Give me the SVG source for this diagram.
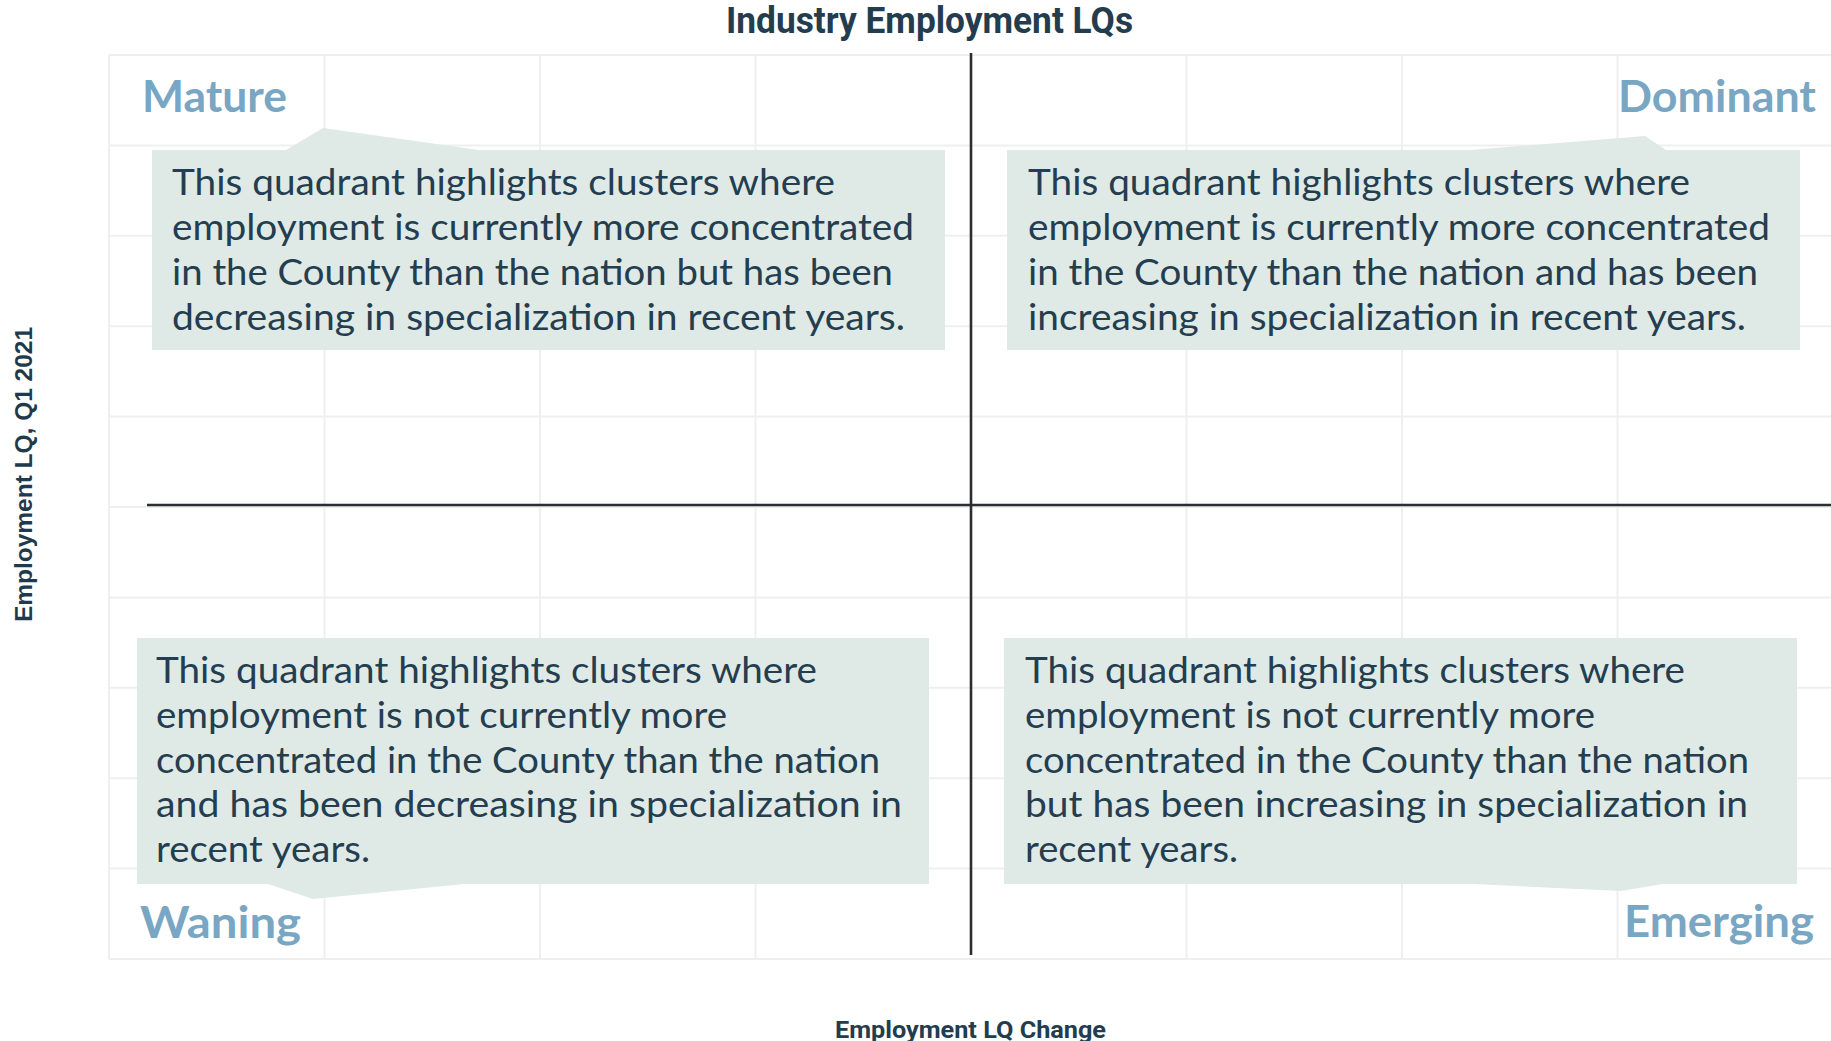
<svg xmlns="http://www.w3.org/2000/svg" width="1831" height="1041" viewBox="0 0 1831 1041">
<style>
.grid{stroke:#efefef;stroke-width:2;fill:none}
.axis{stroke:#2a2e33;stroke-width:2.6;fill:none}
.box{fill:#dfeae7}
.body{font-family:Lato,"Noto Sans",sans-serif;font-size:37px;fill:#243d4f}
.quad{font-family:Lato,"Noto Sans",sans-serif;font-weight:bold;font-size:44px;fill:#79a6c2}
.title{font-family:Roboto,"Liberation Sans",sans-serif;font-weight:bold;fill:#233c4e}
.ylab{font-family:"Liberation Sans",Arial,sans-serif;font-weight:bold;font-size:24px;fill:#1f3a4c}
</style>
<rect width="1831" height="1041" fill="#ffffff"/>
<g id="grid">
<path class="grid" d="M109,55V959M324.5,55V959M540,55V959M755.5,55V959M1186.5,55V959M1402,55V959M1617.5,55V959M109,55H1831M109,145.4H1831M109,235.8H1831M109,326.2H1831M109,416.6H1831M109,507H1831M109,597.4H1831M109,687.8H1831M109,778.2H1831M109,868.6H1831M109,959H1831"/>
</g>
<g id="connectors">
<line class="axis" x1="971" y1="53" x2="971" y2="955"/>
<line class="axis" x1="147" y1="505" x2="1831" y2="505"/>
</g>
<g id="title">
<text class="title" x="726" y="33" font-size="37" textLength="407" lengthAdjust="spacingAndGlyphs">Industry Employment LQs</text>
</g>
<g id="x-label">
<text class="title" x="835" y="1038" font-size="24" textLength="271" lengthAdjust="spacingAndGlyphs">Employment LQ Change</text>
</g>
<g id="y-label">
<text class="ylab" transform="translate(32,622) rotate(-90)" x="0" y="0" textLength="295" lengthAdjust="spacingAndGlyphs">Employment LQ, Q1 2021</text>
</g>
<g id="mature">
<polygon class="box" points="152,150 286,150 323,128 479,150 945,150 945,350 152,350"/>
<text class="body" x="172" y="195" textLength="663" lengthAdjust="spacingAndGlyphs">This quadrant highlights clusters where</text>
<text class="body" x="172" y="240" textLength="742" lengthAdjust="spacingAndGlyphs">employment is currently more concentrated</text>
<text class="body" x="172" y="285" textLength="721" lengthAdjust="spacingAndGlyphs">in the County than the nation but has been</text>
<text class="body" x="172" y="330" textLength="733" lengthAdjust="spacingAndGlyphs">decreasing in specialization in recent years.</text>
<text class="quad" x="142" y="112" textLength="145" lengthAdjust="spacingAndGlyphs">Mature</text>
</g>
<g id="dominant">
<polygon class="box" points="1007,150 1470,150 1645,136 1666,150 1800,150 1800,350 1007,350"/>
<text class="body" x="1028" y="195" textLength="662" lengthAdjust="spacingAndGlyphs">This quadrant highlights clusters where</text>
<text class="body" x="1028" y="240" textLength="742" lengthAdjust="spacingAndGlyphs">employment is currently more concentrated</text>
<text class="body" x="1028" y="285" textLength="730" lengthAdjust="spacingAndGlyphs">in the County than the nation and has been</text>
<text class="body" x="1028" y="330" textLength="718" lengthAdjust="spacingAndGlyphs">increasing in specialization in recent years.</text>
<text class="quad" x="1618" y="112" textLength="198" lengthAdjust="spacingAndGlyphs">Dominant</text>
</g>
<g id="waning">
<polygon class="box" points="137,638 929,638 929,884 465,884 313,899 268,884 137,884"/>
<text class="body" x="156" y="683" textLength="661" lengthAdjust="spacingAndGlyphs">This quadrant highlights clusters where</text>
<text class="body" x="156" y="728" textLength="571" lengthAdjust="spacingAndGlyphs">employment is not currently more</text>
<text class="body" x="156" y="773" textLength="724" lengthAdjust="spacingAndGlyphs">concentrated in the County than the nation</text>
<text class="body" x="156" y="817" textLength="746" lengthAdjust="spacingAndGlyphs">and has been decreasing in specialization in</text>
<text class="body" x="156" y="862" textLength="214" lengthAdjust="spacingAndGlyphs">recent years.</text>
<text class="quad" x="140" y="938" textLength="161" lengthAdjust="spacingAndGlyphs">Waning</text>
</g>
<g id="emerging">
<polygon class="box" points="1004,638 1797,638 1797,884 1663,884 1621,891 1474,884 1004,884"/>
<text class="body" x="1025" y="683" textLength="660" lengthAdjust="spacingAndGlyphs">This quadrant highlights clusters where</text>
<text class="body" x="1025" y="728" textLength="570" lengthAdjust="spacingAndGlyphs">employment is not currently more</text>
<text class="body" x="1025" y="773" textLength="724" lengthAdjust="spacingAndGlyphs">concentrated in the County than the nation</text>
<text class="body" x="1025" y="817" textLength="723" lengthAdjust="spacingAndGlyphs">but has been increasing in specialization in</text>
<text class="body" x="1025" y="862" textLength="213" lengthAdjust="spacingAndGlyphs">recent years.</text>
<text class="quad" x="1624" y="937" textLength="190" lengthAdjust="spacingAndGlyphs">Emerging</text>
</g>
</svg>
